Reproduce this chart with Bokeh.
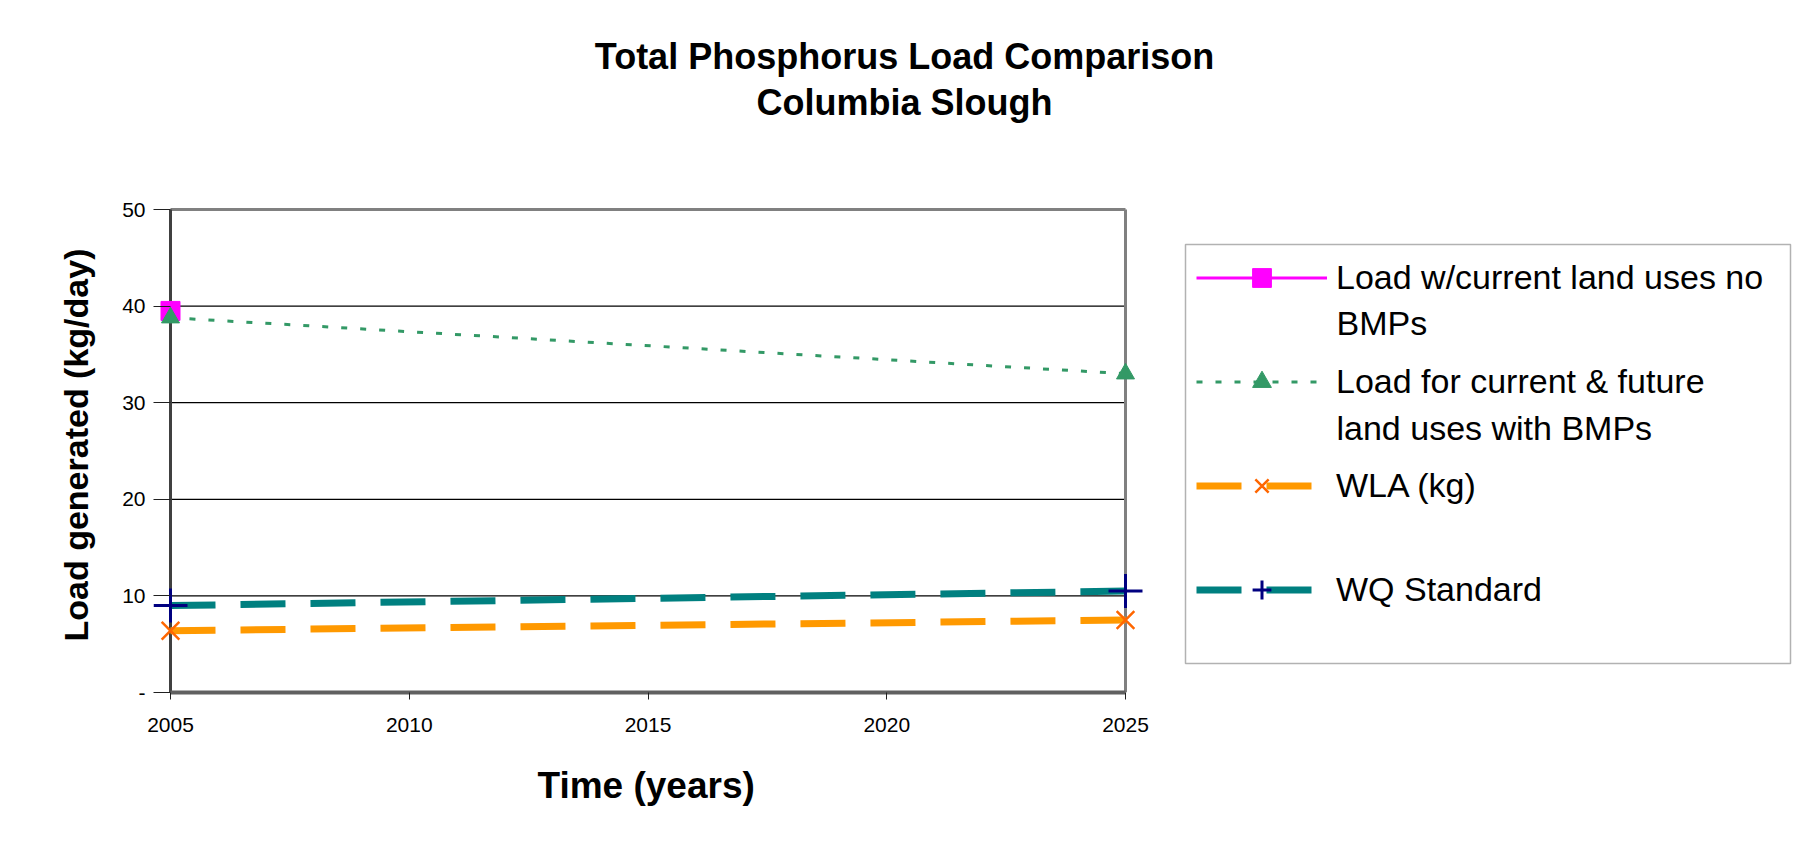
from bokeh.plotting import figure
from bokeh.models import (Legend, LegendItem, Label, FixedTicker, Range1d, BoxAnnotation, Title)
from bokeh.embed import file_html
from bokeh.resources import INLINE

# ---- data ----
years = [2005, 2025]
no_bmp_years = [2005]
no_bmp_load = [39.5]
bmp_load = [38.8, 33.0]
wla_load = [6.4, 7.5]
wq_standard = [9.0, 10.5]
y_ticks = [0, 10, 20, 30, 40, 50]
x_ticks = [2005, 2010, 2015, 2020, 2025]
title_lines = ["Total Phosphorus Load Comparison", "Columbia Slough"]
legend_first_lines = ["Load w/current land uses no", "Load for current & future",
                      "WLA (kg)", "WQ Standard"]
legend_second_lines = ["BMPs", "land uses with BMPs"]
x_label = "Time (years)"
y_label = "Load generated (kg/day)"

FONT = "Liberation Sans"
W, H = 1792, 846

# ---- layout (page pixels) ----
PLOT_LEFT, PLOT_RIGHT = 170, 1125      # x of first / last year
PLOT_TOP, PLOT_BOTTOM = 209, 692       # y of top / bottom tick
FRAME_LEFT = 153                       # frame starts a bit left so end markers are not clipped
X0, X1 = years[0], years[-1]
Y0, Y1 = y_ticks[0], y_ticks[-1]
ppx = (PLOT_RIGHT - PLOT_LEFT) / (X1 - X0)
ppy = (PLOT_BOTTOM - PLOT_TOP) / (Y1 - Y0)
frame_w = W - FRAME_LEFT
x_start = X0 - (PLOT_LEFT - FRAME_LEFT) / ppx
x_end = x_start + frame_w / ppx
y_end = PLOT_BOTTOM / ppy


def sx(page_x):
    return page_x - FRAME_LEFT


def sy(page_y):
    return PLOT_BOTTOM - page_y


p = figure(width=W, height=H, output_backend="svg", toolbar_location=None,
           x_range=Range1d(x_start, x_end), y_range=Range1d(Y0, y_end),
           min_border_left=FRAME_LEFT, min_border_right=0,
           min_border_top=0, min_border_bottom=H - PLOT_BOTTOM)
p.background_fill_color = "white"
p.border_fill_color = "white"
p.outline_line_color = None
p.xgrid.visible = False
p.ygrid.visible = False

# axes
p.xaxis.ticker = FixedTicker(ticks=x_ticks)
p.xaxis.bounds = (X0, X1)
p.yaxis.ticker = FixedTicker(ticks=y_ticks)
p.yaxis.bounds = (Y0, Y1)
p.yaxis.major_label_overrides = {0: "-"}
for ax in (p.xaxis[0], p.yaxis[0]):
    ax.major_label_text_font = FONT
    ax.major_label_text_font_size = "21px"
    ax.major_label_text_color = "black"
    ax.major_tick_line_color = "#202020"
    ax.minor_tick_line_color = None
p.xaxis.major_tick_in = 0
p.xaxis.major_tick_out = 7
p.yaxis.major_tick_in = PLOT_LEFT - FRAME_LEFT
p.yaxis.major_tick_out = 0
p.yaxis.axis_line_color = None
p.xaxis.major_label_standoff = 18
p.yaxis.major_label_standoff = 8
p.xaxis.axis_line_color = "#606060"
p.xaxis.axis_line_width = 4

# axis titles placed along the plotted span (not along the wider frame)
p.add_layout(Title(text=x_label, align="left", offset=537 - FRAME_LEFT,
                   standoff=56, text_font=FONT, text_font_style="bold",
                   text_font_size="37px", text_color="black"), "below")
p.add_layout(Title(text=y_label, align="left", offset=PLOT_BOTTOM - 641,
                   standoff=50, text_font=FONT, text_font_style="bold",
                   text_font_size="34px", text_color="black"), "left")

# plot-area borders and horizontal grid lines
grid_vals = y_ticks[1:-1]
p.segment(x0=[X0] * len(grid_vals), y0=grid_vals, x1=[X1] * len(grid_vals), y1=grid_vals,
          line_color="black", line_width=1.2)
p.segment(x0=[X0, X1], y0=[Y1, Y0], x1=[X1, X1], y1=[Y1, Y1],
          line_color="#808080", line_width=3)
p.segment(x0=[X0], y0=[Y0], x1=[X0], y1=[Y1], line_color="#404040", line_width=3)

# series
l0 = p.line(no_bmp_years, no_bmp_load, line_color="#FF00FF", line_width=3)
l1 = p.line(years, bmp_load, line_color="#339966", line_width=3, line_dash="6 13")
l2 = p.line(years, wla_load, line_color="#FF9900", line_width=7, line_dash="45 25")
l3 = p.line(years, wq_standard, line_color="#008080", line_width=7, line_dash="45 25")
s0 = p.scatter(no_bmp_years, no_bmp_load, marker="square", size=19,
               fill_color="#FF00FF", line_color="#FF00FF")
s1 = p.scatter(years, bmp_load, marker="triangle", size=18,
               fill_color="#339966", line_color="#339966")
s2 = p.scatter(years, wla_load, marker="x", size=25, line_color="#FF6600", line_width=2.5)
s3 = p.scatter(years, wq_standard, marker="cross", size=34, line_color="#000080", line_width=3)

# legend box
p.add_layout(BoxAnnotation(left=sx(1185), right=sx(1790), bottom=sy(663), top=sy(244),
                           left_units="screen", right_units="screen",
                           bottom_units="screen", top_units="screen",
                           fill_color="white", fill_alpha=1,
                           line_color="black", line_width=1.5))

ITEM_H, SPACING = 47, 57
first_center = 277
last_center = first_center + 3 * (ITEM_H + SPACING)
legend = Legend(items=[
    LegendItem(label=legend_first_lines[0], renderers=[l0, s0]),
    LegendItem(label=legend_first_lines[1], renderers=[l1, s1]),
    LegendItem(label=legend_first_lines[2], renderers=[l2, s2]),
    LegendItem(label=legend_first_lines[3], renderers=[l3, s3]),
], location=(sx(1196), sy(last_center + ITEM_H / 2)))
legend.label_text_font = FONT
legend.label_text_font_size = "34px"
legend.label_text_color = "black"
legend.glyph_width = 131
legend.glyph_height = ITEM_H
legend.label_height = ITEM_H
legend.label_standoff = 9
legend.padding = 0
legend.spacing = SPACING
legend.margin = 0
legend.border_line_color = None
legend.background_fill_alpha = 0
p.add_layout(legend)

for txt, y in zip(legend_second_lines, [322, 427]):
    p.add_layout(Label(x=sx(1336), y=sy(y), x_units="screen", y_units="screen", text=txt,
                       text_align="left", text_baseline="middle",
                       text_font=FONT, text_font_size="34px", text_color="black"))

# chart title (two centred lines over the whole chart area)
for txt, y in zip(title_lines, [56, 102]):
    p.add_layout(Label(x=sx(904), y=sy(y), x_units="screen", y_units="screen", text=txt,
                       text_align="center", text_baseline="middle",
                       text_font=FONT, text_font_style="bold",
                       text_font_size="36px", text_color="black"))

open("out.html", "w").write(file_html(p, INLINE))
